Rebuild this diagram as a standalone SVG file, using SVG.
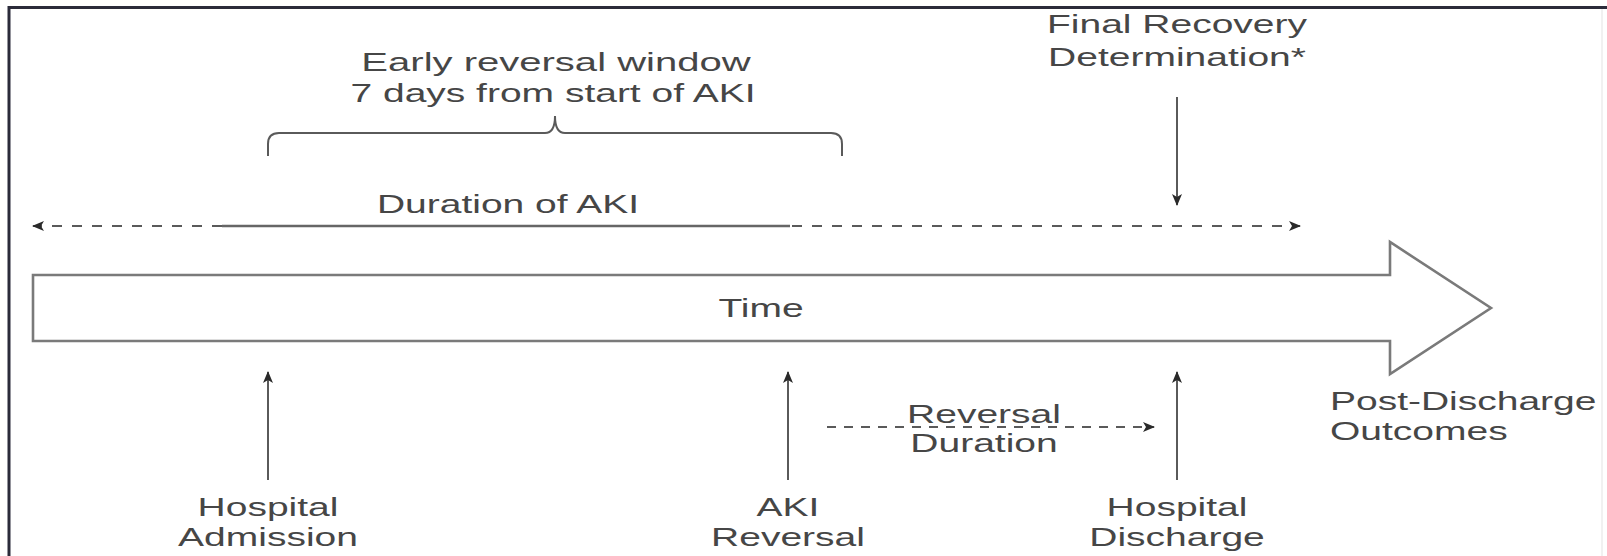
<svg xmlns="http://www.w3.org/2000/svg" width="1607" height="556" viewBox="0 0 1607 556">
<style>
.t{font-family:"Liberation Sans",Arial,sans-serif;font-size:26px;fill:#464646;text-anchor:middle}
.tl{text-anchor:start}
.ln{stroke:#5a5a5a;stroke-width:2;fill:none}
.dash{stroke:#5a5a5a;stroke-width:2.2;fill:none;stroke-dasharray:10 10}
.solid{stroke:#666;stroke-width:2.6;fill:none}
</style>
<defs>
<marker id="ah" viewBox="0 0 12 10" refX="11" refY="5" markerWidth="13" markerHeight="10" markerUnits="userSpaceOnUse" orient="auto-start-reverse">
<path d="M0,0 L12,5 L0,10 L3,5 Z" fill="#2a2a2a"/>
</marker>
</defs>
<rect x="0" y="0" width="1607" height="556" fill="#fff"/>
<g id="frame">
<line x1="9" y1="7.5" x2="1607" y2="7.5" stroke="#2b2b3a" stroke-width="3"/>
<line x1="9" y1="6" x2="9" y2="556" stroke="#2b2b3a" stroke-width="3"/>
<line x1="1602" y1="9" x2="1602" y2="556" stroke="#ececec" stroke-width="1.5"/>
</g>
<g id="time-arrow">
<path d="M33,275 L1390,275 L1390,242 L1491,308 L1390,374 L1390,341 L33,341 Z" fill="#fff" stroke="#7a7a7a" stroke-width="2.6"/>
<text class="t" transform="translate(761,317) scale(1.5,1)">Time</text>
</g>
<g id="early-window">
<path class="ln" d="M268,156 L268,144 Q268,133 279,133 L545,133 Q555,133 555,116 Q555,133 565,133 L831,133 Q842,133 842,144 L842,156"/>
<text class="t" transform="translate(556,71) scale(1.54,1)">Early reversal window</text>
<text class="t" transform="translate(553,102) scale(1.5,1)">7 days from start of AKI</text>
</g>
<g id="final-recovery">
<text class="t" transform="translate(1177,33) scale(1.5,1)">Final Recovery</text>
<text class="t" transform="translate(1177,66) scale(1.5,1)">Determination*</text>
</g>
<g id="duration-aki">
<text class="t" transform="translate(508,213) scale(1.5,1)">Duration of AKI</text>
</g>
<g id="hospital-admission">
<text class="t" transform="translate(268,516) scale(1.5,1)">Hospital</text>
<text class="t" transform="translate(268,546) scale(1.5,1)">Admission</text>
</g>
<g id="aki-reversal">
<text class="t" transform="translate(788,516) scale(1.5,1)">AKI</text>
<text class="t" transform="translate(788,546) scale(1.5,1)">Reversal</text>
</g>
<g id="hospital-discharge">
<text class="t" transform="translate(1177,516) scale(1.5,1)">Hospital</text>
<text class="t" transform="translate(1177,546) scale(1.5,1)">Discharge</text>
</g>
<g id="reversal-duration">
<text class="t" transform="translate(984,423) scale(1.5,1)">Reversal</text>
<text class="t" transform="translate(984,452) scale(1.5,1)">Duration</text>
</g>
<g id="post-discharge">
<text class="t tl" transform="translate(1330,410) scale(1.5,1)">Post-Discharge</text>
<text class="t tl" transform="translate(1330,440) scale(1.5,1)">Outcomes</text>
</g>
<g id="connectors">
<line class="dash" x1="222" y1="226" x2="33" y2="226" marker-end="url(#ah)"/>
<line class="solid" x1="222" y1="226" x2="790" y2="226"/>
<line class="dash" x1="792" y1="226" x2="1300" y2="226" marker-end="url(#ah)"/>
<line class="ln" x1="1177" y1="97" x2="1177" y2="205" marker-end="url(#ah)"/>
<line class="ln" x1="268" y1="480" x2="268" y2="372" marker-end="url(#ah)"/>
<line class="ln" x1="788" y1="480" x2="788" y2="372" marker-end="url(#ah)"/>
<line class="ln" x1="1177" y1="480" x2="1177" y2="372" marker-end="url(#ah)"/>
<line class="dash" style="stroke-dasharray:9 8" x1="827" y1="427" x2="1154" y2="427" marker-end="url(#ah)"/>
</g>
</svg>
